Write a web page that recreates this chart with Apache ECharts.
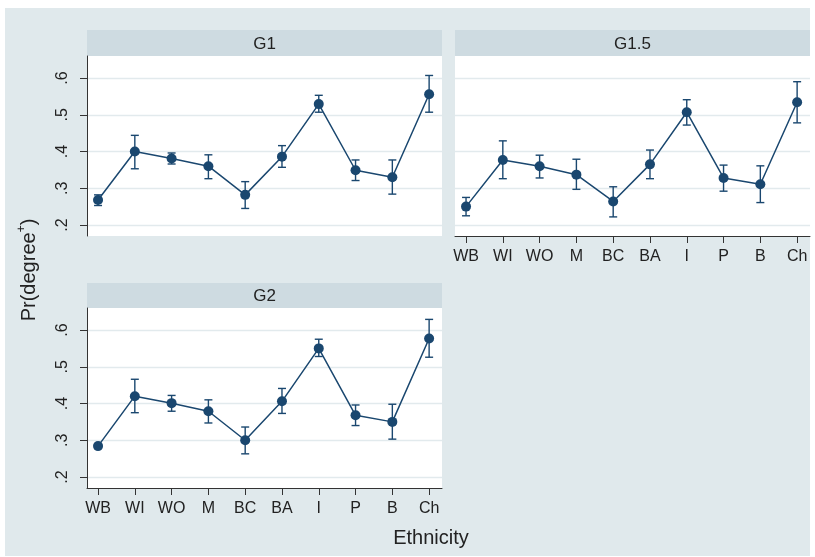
<!DOCTYPE html>
<html>
<head>
<meta charset="utf-8">
<script src="https://cdn.jsdelivr.net/npm/echarts@6/dist/echarts.min.js"></script>
<style>html,body{margin:0;padding:0;background:#fff}#c{width:815px;height:557px}</style>
</head>
<body>
<div id="c"></div>
<script>
const categories = ['WB','WI','WO','M','BC','BA','I','P','B','Ch'];
const yTicks = [0.2, 0.3, 0.4, 0.5, 0.6];
const yTickLabels = ['.2', '.3', '.4', '.5', '.6'];
const panelNames = ['G1', 'G1.5', 'G2'];

const g1Mean = [0.268, 0.400, 0.381, 0.360, 0.282, 0.386, 0.529, 0.349, 0.330, 0.556];
const g1Lo   = [0.253, 0.353, 0.366, 0.326, 0.245, 0.357, 0.507, 0.321, 0.284, 0.507];
const g1Hi   = [0.282, 0.444, 0.396, 0.391, 0.318, 0.416, 0.553, 0.377, 0.377, 0.607];

const g15Mean = [0.250, 0.377, 0.360, 0.337, 0.264, 0.365, 0.507, 0.328, 0.311, 0.534];
const g15Lo   = [0.225, 0.326, 0.328, 0.297, 0.222, 0.326, 0.472, 0.292, 0.261, 0.478];
const g15Hi   = [0.275, 0.429, 0.390, 0.379, 0.304, 0.404, 0.541, 0.363, 0.361, 0.590];

const g2Mean = [0.284, 0.420, 0.401, 0.379, 0.300, 0.406, 0.550, 0.368, 0.350, 0.577];
const g2Lo   = [0.280, 0.375, 0.379, 0.347, 0.263, 0.373, 0.528, 0.340, 0.303, 0.526];
const g2Hi   = [0.288, 0.466, 0.422, 0.410, 0.336, 0.441, 0.575, 0.396, 0.398, 0.629];

const NAVY = '#1a476f';
const BG = '#e0e9ec';
const STRIP = '#cedbe1';
const GRIDC = '#e2eaed';
const FONT = '"Liberation Sans", Arial, sans-serif';
const xVals = categories.map((c, i) => i + 1);

const chart = echarts.init(document.getElementById('c'), null, {renderer: 'canvas'});

const grids = [
  {left: 87, top: 56, width: 355, height: 180},
  {left: 455, top: 56, width: 355, height: 180},
  {left: 87, top: 308, width: 355, height: 180}
];
const showX = [false, true, true];
const showY = [true, false, true];
const means = [g1Mean, g15Mean, g2Mean];
const los = [g1Lo, g15Lo, g2Lo];
const his = [g1Hi, g15Hi, g2Hi];

const xAxes = grids.map((g, i) => ({
  type: 'value', gridIndex: i, min: 0.7, max: 10.35,
  axisLine: {show: showX[i], onZero: false, lineStyle: {color: '#333', width: 1}},
  axisTick: {show: showX[i], length: 7, customValues: xVals, lineStyle: {color: '#333'}},
  axisLabel: {show: showX[i], customValues: xVals, margin: 13, fontSize: 16, color: '#222', fontFamily: FONT,
    formatter: v => categories[Math.round(v) - 1] || ''},
  splitLine: {show: false}
}));
const yAxes = grids.map((g, i) => ({
  type: 'value', gridIndex: i, min: 0.17, max: 0.66,
  axisLine: {show: showY[i], lineStyle: {color: '#333', width: 1}},
  axisTick: {show: showY[i], length: 7, customValues: yTicks, lineStyle: {color: '#333'}},
  axisLabel: {show: showY[i], customValues: yTicks, rotate: 90, margin: 16, fontSize: 16, color: '#222', fontFamily: FONT,
    formatter: v => { const k = yTicks.findIndex(t => Math.abs(t - v) < 1e-6); return k >= 0 ? yTickLabels[k] : ''; }},
  splitLine: {show: true, lineStyle: {color: GRIDC, width: 1.3}}
}));

const series = [];
grids.forEach((g, i) => {
  series.push({
    type: 'custom', xAxisIndex: i, yAxisIndex: i,
    data: categories.map((c, k) => [k + 1, los[i][k], his[i][k]]),
    encode: {x: 0, y: [1, 2]},
    z: 3,
    renderItem: (params, api) => {
      const x = api.value(0);
      const p1 = api.coord([x, api.value(1)]);
      const p2 = api.coord([x, api.value(2)]);
      const hw = 4;
      const st = {stroke: NAVY, lineWidth: 1.4};
      return {type: 'group', children: [
        {type: 'line', shape: {x1: p1[0], y1: p1[1], x2: p2[0], y2: p2[1]}, style: st},
        {type: 'line', shape: {x1: p1[0] - hw, y1: p1[1], x2: p1[0] + hw, y2: p1[1]}, style: st},
        {type: 'line', shape: {x1: p2[0] - hw, y1: p2[1], x2: p2[0] + hw, y2: p2[1]}, style: st}
      ]};
    }
  });
  series.push({
    type: 'line', xAxisIndex: i, yAxisIndex: i,
    data: categories.map((c, k) => [k + 1, means[i][k]]),
    symbol: 'circle', symbolSize: 10, showAllSymbol: true,
    lineStyle: {color: NAVY, width: 1.5},
    itemStyle: {color: NAVY},
    z: 4, animation: false
  });
});

const stripRects = [
  {x: 87, y: 30, w: 355, h: 26},
  {x: 455, y: 30, w: 355, h: 26},
  {x: 87, y: 283, w: 355, h: 25}
];
const graphic = [
  {type: 'rect', left: 0, top: 0, shape: {width: 5, height: 557}, style: {fill: '#fff'}, silent: true},
  {type: 'rect', left: 810, top: 0, shape: {width: 5, height: 557}, style: {fill: '#fff'}, silent: true},
  {type: 'rect', left: 0, top: 0, shape: {width: 815, height: 8}, style: {fill: '#fff'}, silent: true},
  {type: 'rect', left: 0, top: 556, shape: {width: 815, height: 1}, style: {fill: '#fff'}, silent: true}
];
stripRects.forEach((s, i) => {
  graphic.push({type: 'rect', x: s.x, y: s.y, shape: {width: s.w, height: s.h}, style: {fill: STRIP}, silent: true});
  graphic.push({type: 'text', x: s.x + s.w / 2, y: s.y + s.h / 2 + 1,
    style: {text: panelNames[i], fill: '#222', font: '17px ' + FONT, textAlign: 'center', textVerticalAlign: 'middle'}, silent: true});
});
graphic.push({type: 'text', x: 431, y: 538,
  style: {text: 'Ethnicity', fill: '#222', font: '20px ' + FONT, textAlign: 'center', textVerticalAlign: 'middle'}, silent: true});
graphic.push({type: 'text', x: 29, y: 270, rotation: Math.PI / 2,
  style: {text: 'Pr(degree{sup|+})', fill: '#222', fontSize: 20, fontFamily: FONT, textAlign: 'center', textVerticalAlign: 'middle',
    lineHeight: 26,
    rich: {sup: {fontSize: 12, fontFamily: FONT, fill: '#222', verticalAlign: 'top', lineHeight: 26}}}, silent: true});

chart.setOption({
  backgroundColor: BG,
  animation: false,
  grid: grids.map(g => Object.assign({show: true, backgroundColor: '#fff', borderWidth: 0, containLabel: false}, g)),
  xAxis: xAxes,
  yAxis: yAxes,
  series: series,
  graphic: graphic
});
</script>
</body>
</html>
